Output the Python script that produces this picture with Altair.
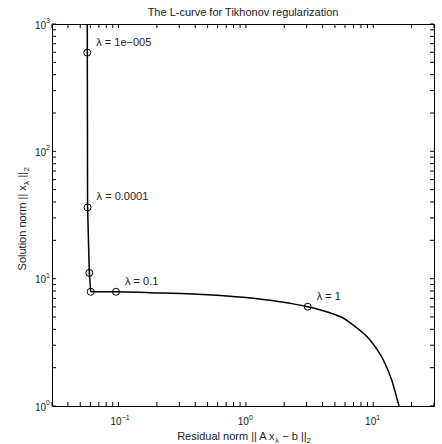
import altair as alt
import pandas as pd

# ---- data ----
curve_x = [0.0568, 0.0568, 0.0571, 0.0589, 0.0604, 0.0954, 0.1765, 0.384, 0.948,
           1.852, 2.22, 3.06, 4.86, 5.79, 6.93, 9.43, 11.99, 13.96, 15.73, 15.96]
curve_y = [1000, 596, 36.3, 11.1, 7.89, 7.89, 7.76, 7.58, 7.14,
           6.59, 6.40, 6.02, 5.28, 4.91, 4.33, 3.30, 2.30, 1.60, 1.05, 1.0]
CORNER = 4  # index where the vertical branch turns into the flat branch

point_lambda = [1e-5, 1e-4, 1e-3, 1e-2, 1e-1, 1.0]
point_x = [0.0568, 0.0571, 0.0589, 0.0604, 0.0954, 3.06]
point_y = [596, 36.3, 11.1, 7.89, 7.89, 6.02]
point_labels = ["λ = 1e−005", "λ = 0.0001", "", "", "λ = 0.1", "λ = 1"]

x_major = [0.1, 1, 10]
x_major_exp = ["−1", "0", "1"]
y_major = [1, 10, 100, 1000]
y_major_exp = ["0", "1", "2", "3"]
x_ticks = [0.03, 0.04, 0.05, 0.06, 0.07, 0.08, 0.09,
           0.1, 0.2, 0.3, 0.4, 0.5, 0.6, 0.7, 0.8, 0.9,
           1, 2, 3, 4, 5, 6, 7, 8, 9, 10, 20, 30]
y_ticks = [1, 2, 3, 4, 5, 6, 7, 8, 9, 10, 20, 30, 40, 50, 60, 70, 80, 90,
           100, 200, 300, 400, 500, 600, 700, 800, 900, 1000]

title_text = "The L-curve for Tikhonov regularization"

W = H = 382
TL = 4  # tick length
FONT = "Liberation Sans"
TXT = "#222"

curve_df = pd.DataFrame({"x": curve_x, "y": curve_y, "order": list(range(len(curve_x)))})
pts_df = pd.DataFrame({"lam": point_lambda, "x": point_x, "y": point_y, "label": point_labels})
xt_df = pd.DataFrame({"v": x_ticks})
yt_df = pd.DataFrame({"v": y_ticks})
xm_df = pd.DataFrame({"v": x_major, "e": x_major_exp})
ym_df = pd.DataFrame({"v": y_major, "e": y_major_exp})
one = pd.DataFrame({"d": [0]})

xs = alt.Scale(type="log", domain=[0.03, 30], nice=False)
ys = alt.Scale(type="log", domain=[1, 1000], nice=False)

X = lambda f: alt.X(f, scale=xs, axis=None)
Y = lambda f: alt.Y(f, scale=ys, axis=None)

# vertical branch (linear)
vert = alt.Chart(curve_df).transform_filter(alt.datum.order <= CORNER).mark_line(
    color="black", strokeWidth=1.5, clip=True).encode(
    x=X("x:Q"), y=Y("y:Q"), order="order:Q")

# flat branch + tail (smooth)
flat = alt.Chart(curve_df).transform_filter(alt.datum.order >= CORNER).mark_line(
    color="black", strokeWidth=1.5, clip=True, interpolate="monotone").encode(
    x=X("x:Q"), y=Y("y:Q"), order="order:Q")

points = alt.Chart(pts_df).mark_point(shape="circle", filled=False, color="black",
                                      size=49, strokeWidth=1, opacity=1).encode(
    x=X("x:Q"), y=Y("y:Q"))

labels = alt.Chart(pts_df).mark_text(align="left", baseline="middle", dx=9, dy=-10,
                                     font=FONT, fontSize=11, color=TXT).encode(
    x=X("x:Q"), y=Y("y:Q"), text="label:N")

# inward ticks on all four sides
tb = alt.Chart(xt_df).mark_rule(color="black", strokeWidth=1).encode(
    x=X("v:Q"), y=alt.value(H), y2=alt.value(H - TL))
tt = alt.Chart(xt_df).mark_rule(color="black", strokeWidth=1).encode(
    x=X("v:Q"), y=alt.value(0), y2=alt.value(TL))
tl = alt.Chart(yt_df).mark_rule(color="black", strokeWidth=1).encode(
    y=Y("v:Q"), x=alt.value(0), x2=alt.value(TL))
tr = alt.Chart(yt_df).mark_rule(color="black", strokeWidth=1).encode(
    y=Y("v:Q"), x=alt.value(W), x2=alt.value(W - TL))

# tick labels 10^k (base + raised exponent)
XL_BASE = H + 19   # baseline of "10" below the plot
xl_base = alt.Chart(xm_df).mark_text(text="10", align="right", baseline="alphabetic", dx=3,
                                     font=FONT, fontSize=10, color=TXT).encode(
    x=X("v:Q"), y=alt.value(XL_BASE))
xl_exp = alt.Chart(xm_df).mark_text(align="left", baseline="alphabetic", dx=3,
                                    font=FONT, fontSize=7, color=TXT).encode(
    x=X("v:Q"), y=alt.value(XL_BASE - 5), text="e:N")
yl_base = alt.Chart(ym_df).mark_text(text="10", align="right", baseline="middle", dy=1.5,
                                     font=FONT, fontSize=10, color=TXT).encode(
    y=Y("v:Q"), x=alt.value(-6))
yl_exp = alt.Chart(ym_df).mark_text(align="left", baseline="middle", dy=-3,
                                    font=FONT, fontSize=7, color=TXT).encode(
    y=Y("v:Q"), x=alt.value(-6), text="e:N")

# title
title = alt.Chart(one).mark_text(text=title_text, align="center", baseline="alphabetic",
                                 font=FONT, fontSize=11, color=TXT).encode(
    x=alt.value(W / 2), y=alt.value(-8))

# axis titles with subscripts, built from text pieces
XT_Y = 416   # baseline relative to plot top
XJ = 222.6   # join point of main text and subscript (relative to plot left)
xt_main = alt.Chart(one).mark_text(text="Residual norm || A x", align="right", baseline="alphabetic",
                                   font=FONT, fontSize=11, color=TXT).encode(
    x=alt.value(XJ), y=alt.value(XT_Y))
xt_sub1 = alt.Chart(one).mark_text(text="λ", align="left", baseline="alphabetic",
                                   font=FONT, fontSize=8, color=TXT).encode(
    x=alt.value(XJ + 0.3), y=alt.value(XT_Y + 3))
xt_rest = alt.Chart(one).mark_text(text="− b ||", align="left", baseline="alphabetic",
                                   font=FONT, fontSize=11, color=TXT).encode(
    x=alt.value(XJ + 7.7), y=alt.value(XT_Y))
xt_sub2 = alt.Chart(one).mark_text(text="2", align="left", baseline="alphabetic",
                                   font=FONT, fontSize=8, color=TXT).encode(
    x=alt.value(XJ + 32.0), y=alt.value(XT_Y + 3))

YT_X = 25.5 - 52     # baseline x relative to plot left
YJ = 185.2 - 24      # join point (relative to plot top)
yt_main = alt.Chart(one).mark_text(text="Solution norm || x", align="right", baseline="alphabetic",
                                   angle=270, font=FONT, fontSize=11, color=TXT).encode(
    x=alt.value(YT_X), y=alt.value(YJ))
yt_sub1 = alt.Chart(one).mark_text(text="λ", align="left", baseline="alphabetic",
                                   angle=270, font=FONT, fontSize=8, color=TXT).encode(
    x=alt.value(YT_X + 3), y=alt.value(YJ - 0.3))
yt_rest = alt.Chart(one).mark_text(text="||", align="left", baseline="alphabetic",
                                   angle=270, font=FONT, fontSize=11, color=TXT).encode(
    x=alt.value(YT_X), y=alt.value(YJ - 7.7))
yt_sub2 = alt.Chart(one).mark_text(text="2", align="left", baseline="alphabetic",
                                   angle=270, font=FONT, fontSize=8, color=TXT).encode(
    x=alt.value(YT_X + 3), y=alt.value(YJ - 13.6))

chart = alt.layer(
    vert, flat, points, labels, tb, tt, tl, tr,
    xl_base, xl_exp, yl_base, yl_exp, title,
    xt_main, xt_sub1, xt_rest, xt_sub2,
    yt_main, yt_sub1, yt_rest, yt_sub2,
).properties(
    width=W, height=H,
    autosize=alt.AutoSizeParams(type="none"),
    padding={"left": 52, "top": 24, "right": 8, "bottom": 38},
    background="white",
).configure_view(stroke="black", strokeWidth=1)

chart.save("out.html", embed_options={"renderer": "svg", "actions": False})
